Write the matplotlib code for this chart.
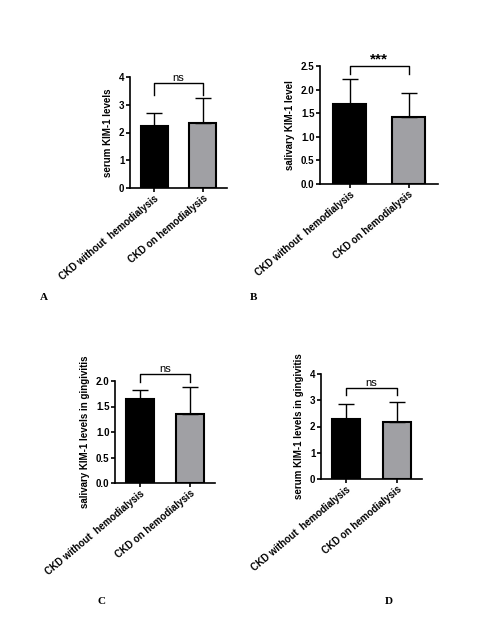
import matplotlib.pyplot as plt

W, H = 480, 643
groups = ["CKD without  hemodialysis", "CKD on hemodialysis"]

# panel data: means, upper SD
a_mean = [2.22, 2.35]
a_sd = [0.50, 0.90]
b_mean = [1.70, 1.42]
b_sd = [0.53, 0.51]
c_mean = [1.65, 1.35]
c_sd = [0.18, 0.54]
d_mean = [2.27, 2.18]
d_sd = [0.59, 0.75]

panels = [
    # (means, sd, ylabel, ymax, yticks, tickfmt, bracket_top, bracket_end, sig, axes px box, letter pos, letter)
    (a_mean, a_sd, "serum KIM-1 levels", 4, [0, 1, 2, 3, 4], "{:.0f}", 3.78, 3.35, "ns",
     (130, 77, 227, 188), (40, 298), "A"),
    (b_mean, b_sd, "salivary KIM-1 level", 2.5, [0, 0.5, 1, 1.5, 2, 2.5], "{:.1f}", 2.5, 2.32, "***",
     (320, 66, 438, 184), (250, 298), "B"),
    (c_mean, c_sd, "salivary KIM-1 levels in gingivitis", 2.0, [0, 0.5, 1, 1.5, 2], "{:.1f}", 2.14, 1.98, "ns",
     (115, 381, 215, 483), (98, 601), "C"),
    (d_mean, d_sd, "serum KIM-1 levels in gingivitis", 4, [0, 1, 2, 3, 4], "{:.0f}", 3.47, 3.2, "ns",
     (321, 374, 422, 479), (385, 601), "D"),
]

fig = plt.figure(figsize=(W / 100, H / 100), dpi=100)
plt.rcParams["font.family"] = ["Liberation Sans", "DejaVu Sans"]

for means, sd, ylab, ymax, yt, fmt, btop, bend, sig, box, lpos, letter in panels:
    x0, y0, x1, y1 = box
    ax = fig.add_axes([x0 / W, 1 - y1 / H, (x1 - x0) / W, (y1 - y0) / H])
    ax.bar([0, 1], means, width=0.56, color=["black", "#a0a0a4"], edgecolor="black", linewidth=1.5,
           yerr=[[0, 0], sd], error_kw=dict(ecolor="black", elinewidth=1, capsize=6, capthick=1))
    ax.set_xlim(-0.5, 1.5)
    ax.set_ylim(0, ymax)
    ax.set_yticks(yt)
    ax.set_yticklabels([fmt.format(v) for v in yt], fontsize=7, fontweight="bold")
    ax.set_xticks([0, 1])
    ax.set_xticklabels(groups, rotation=40, ha="right", rotation_mode="anchor", fontsize=7, fontweight="bold")
    ax.set_ylabel(ylab, fontsize=7, fontweight="bold")
    for s in ["top", "right"]:
        ax.spines[s].set_visible(False)
    for s in ["left", "bottom"]:
        ax.spines[s].set_linewidth(1.2)
    ax.tick_params(width=1.2, length=3, pad=1)
    ax.plot([0, 0, 1, 1], [bend, btop, btop, bend], color="black", lw=1, clip_on=False)
    ax.text(0.5, btop, sig, ha="center", va="bottom", fontsize=8 if sig == "ns" else 11,
            fontweight="bold" if sig != "ns" else "normal")
    fig.text(lpos[0] / W, 1 - lpos[1] / H, letter, fontsize=8, fontweight="bold",
             family="Liberation Serif", ha="left", va="center")

fig.savefig("out.png", dpi=100)
